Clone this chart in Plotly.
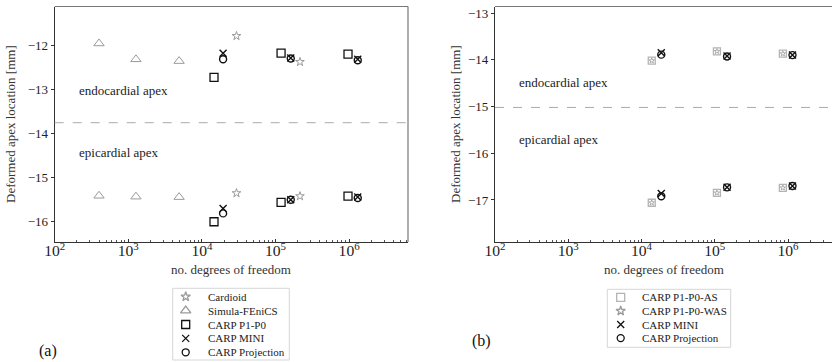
import numpy as np
import plotly.graph_objects as go

# ---------------- data: panel (a) ----------------
fenics_dof = [400, 1270, 4900]
fenics_endo = [-11.96, -12.32, -12.36]
fenics_epi = [-15.42, -15.44, -15.45]

cardioid_dof = [29500, 215000]
cardioid_endo = [-11.79, -12.38]
cardioid_epi = [-15.36, -15.43]

p1p0_dof = [14600, 119000, 966000]
p1p0_endo = [-12.73, -12.18, -12.20]
p1p0_epi = [-16.01, -15.57, -15.43]

mini_dof = [19400, 161000, 1310000]
mini_endo = [-12.18, -12.29, -12.32]
mini_epi = [-15.71, -15.51, -15.45]
proj_endo = [-12.32, -12.30, -12.34]
proj_epi = [-15.82, -15.51, -15.47]

# ---------------- data: panel (b) ----------------
as_dof = [13800, 107000, 850000]
as_endo = [-14.02, -13.82, -13.87]
as_epi = [-17.06, -16.85, -16.74]
was_endo = [-14.02, -13.82, -13.87]
was_epi = [-17.06, -16.85, -16.74]

mini_dof_b = [18600, 147000, 1150000]
mini_endo_b = [-13.85, -13.92, -13.90]
mini_epi_b = [-16.86, -16.73, -16.70]
proj_endo_b = [-13.89, -13.93, -13.90]
proj_epi_b = [-16.92, -16.73, -16.70]

split_a = -13.76
split_b = -15.02

FONT = "Liberation Serif"
GRAY = "#9a9a9a"
LIGHT = "#b4b4b4"
BLACK = "#111111"

W, H = 832, 362
LEG_TOP = 284  # pixel row where the legend strip begins


def px_x(p):
    return p / W


def px_y(p):
    return 1 - p / H


fig = go.Figure()


def add(x, y, symbol, color, size, width, xa, ya):
    # open symbols take their stroke colour from marker.color
    fig.add_trace(go.Scatter(
        x=x, y=y, mode="markers", xaxis=xa, yaxis=ya, showlegend=False,
        marker=dict(symbol=symbol, size=size, color=color,
                    line=dict(color=color, width=width)),
        hoverinfo="skip"))


# panel (a)
for ys in (fenics_endo, fenics_epi):
    add(fenics_dof, ys, "triangle-up-open", GRAY, 9, 1, "x", "y")
for ys in (cardioid_endo, cardioid_epi):
    add(cardioid_dof, ys, "star-open", GRAY, 6.5, 1, "x", "y")
for ys in (p1p0_endo, p1p0_epi):
    add(p1p0_dof, ys, "square-open", BLACK, 8, 1.3, "x", "y")
for ys in (mini_endo, mini_epi):
    add(mini_dof, ys, "x-thin-open", BLACK, 7, 1.4, "x", "y")
for ys in (proj_endo, proj_epi):
    add(mini_dof, ys, "circle-open", BLACK, 7, 1.4, "x", "y")

# panel (b)
for ys in (as_endo, as_epi):
    add(as_dof, ys, "square-open", LIGHT, 7, 1.3, "x2", "y2")
for ys in (was_endo, was_epi):
    add(as_dof, ys, "star-open", GRAY, 4, 0.8, "x2", "y2")
for ys in (mini_endo_b, mini_epi_b):
    add(mini_dof_b, ys, "x-thin-open", BLACK, 7, 1.4, "x2", "y2")
for ys in (proj_endo_b, proj_epi_b):
    add(mini_dof_b, ys, "circle-open", BLACK, 7, 1.4, "x2", "y2")

# legends drawn in a strip below the panels
legend_a = [("star-open", GRAY, 7, "Cardioid"),
            ("triangle-up-open", GRAY, 9, "Simula-FEniCS"),
            ("square-open", BLACK, 8, "CARP P1-P0"),
            ("x-thin-open", BLACK, 7, "CARP MINI"),
            ("circle-open", BLACK, 7, "CARP Projection")]
legend_b = [("square-open", LIGHT, 8, "CARP P1-P0-AS"),
            ("star-open", GRAY, 7, "CARP P1-P0-WAS"),
            ("x-thin-open", BLACK, 7, "CARP MINI"),
            ("circle-open", BLACK, 7, "CARP Projection")]

annotations = []
shapes = []


def draw_legend(items, box, mx, tx, y0, dy):
    shapes.append(dict(type="rect", xref="x3", yref="y3",
                       x0=box[0], y0=box[1], x1=box[2], y1=box[3],
                       line=dict(color="#d6d6d6", width=1)))
    for i, (sym, col, sz, name) in enumerate(items):
        yy = y0 + i * dy
        fig.add_trace(go.Scatter(
            x=[mx], y=[yy], mode="markers", xaxis="x3", yaxis="y3",
            showlegend=False, hoverinfo="skip",
            marker=dict(symbol=sym, size=sz, color=col,
                        line=dict(color=col, width=1.3))))
        annotations.append(dict(x=tx, y=yy, xref="x3", yref="y3", text=name,
                                showarrow=False, xanchor="left", yanchor="middle",
                                font=dict(family=FONT, size=11, color="#222")))


draw_legend(legend_a, (172.7, 288.3, 289.3, 360), 185.7, 205.5, 296.7, 13.9)
draw_legend(legend_b, (607.3, 289.3, 730.7, 347.3), 620.7, 639.5, 297.3, 13.6)

annotations += [
    dict(x=48, y=350.5, xref="x3", yref="y3", text="(a)", showarrow=False,
         font=dict(family=FONT, size=16, color="#111")),
    dict(x=481.5, y=341, xref="x3", yref="y3", text="(b)", showarrow=False,
         font=dict(family=FONT, size=16, color="#111")),
]

# region labels
for xa, ya, yen, yep in (("x", "y", -13.03, -14.43), ("x2", "y2", -14.49, -15.70)):
    for yv, txt in ((yen, "endocardial apex"), (yep, "epicardial apex")):
        annotations.append(dict(x=np.log10(200), y=yv, xref=xa, yref=ya, text=txt,
                                showarrow=False, xanchor="left", yanchor="middle",
                                font=dict(family=FONT, size=13, color="#222")))

# axis titles
titlefont = dict(family=FONT, size=13, color="#333")
for xa, ytitle_x in (("x", 10), ("x2", 455)):
    annotations.append(dict(x=0.5, y=px_y(269), xref=f"{xa} domain", yref="paper",
                            text="no. degrees of freedom", showarrow=False,
                            xanchor="center", yanchor="middle", font=titlefont))
    annotations.append(dict(x=px_x(ytitle_x), y=px_y(124), xref="paper", yref="paper",
                            text="Deformed apex location [mm]", showarrow=False, textangle=-90,
                            xanchor="center", yanchor="middle", font=titlefont))

# dashed separators
shapes.append(dict(type="line", xref="x domain", yref="y", x0=0, x1=1,
                   y0=split_a, y1=split_a, line=dict(color="#aaaaaa", width=1, dash="dash")))
shapes.append(dict(type="line", xref="x2 domain", yref="y2", x0=0, x1=1,
                   y0=split_b, y1=split_b, line=dict(color="#aaaaaa", width=1, dash="dash")))
# top/right frame lines (lighter)
shapes.append(dict(type="line", xref="x domain", yref="y domain", x0=0, x1=1, y0=1, y1=1,
                   line=dict(color="#777", width=1.2)))
shapes.append(dict(type="line", xref="x domain", yref="y domain", x0=1, x1=1, y0=0, y1=1,
                   line=dict(color="#777", width=1.2)))
shapes.append(dict(type="line", xref="x2 domain", yref="y2 domain", x0=0, x1=1, y0=1, y1=1,
                   line=dict(color="#777", width=1.2)))

ytickfont = dict(family=FONT, size=13, color="#222")
xtickfont = dict(family=FONT, size=12.5, color="#222")


def xaxis(domain, rng, anchor):
    return dict(type="log", domain=domain, range=rng, dtick=1, exponentformat="power",
                anchor=anchor, automargin=False, ticklabelstandoff=-5,
                showgrid=False, zeroline=False, showline=True, linecolor="#333", linewidth=1.2,
                ticks="inside", ticklen=3, tickcolor="#333", tickfont=xtickfont,
                minor=dict(ticks="inside", ticklen=2, tickcolor="#555", showgrid=False))


def yaxis(domain, rng, anchor):
    return dict(domain=domain, range=rng, dtick=1, anchor=anchor, automargin=False,
                showgrid=False, zeroline=False, showline=True, linecolor="#333", linewidth=1.2,
                ticks="outside", ticklen=3, tickcolor="#333", tickfont=ytickfont)


ydom = [px_y(242), px_y(6.5)]
fig.update_layout(
    width=W, height=H, margin=dict(l=0, r=0, t=0, b=0, autoexpand=False),
    paper_bgcolor="white", plot_bgcolor="rgba(0,0,0,0)",
    xaxis=xaxis([px_x(54.7), px_x(408)], [2, 6.8], "y"),
    yaxis=yaxis(ydom, [-16.47, -11.12], "x"),
    xaxis2=xaxis([px_x(495), 1.0], [2, 6.6], "y2"),
    yaxis2=yaxis(ydom, [-17.9, -12.86], "x2"),
    xaxis3=dict(domain=[0, 1], range=[0, W], visible=False, anchor="y3", automargin=False),
    yaxis3=dict(domain=[0, px_y(LEG_TOP)], range=[H, LEG_TOP], visible=False, anchor="x3",
                automargin=False),
    annotations=annotations, shapes=shapes,
    font=dict(family=FONT),
)

fig.write_html("out.html")
